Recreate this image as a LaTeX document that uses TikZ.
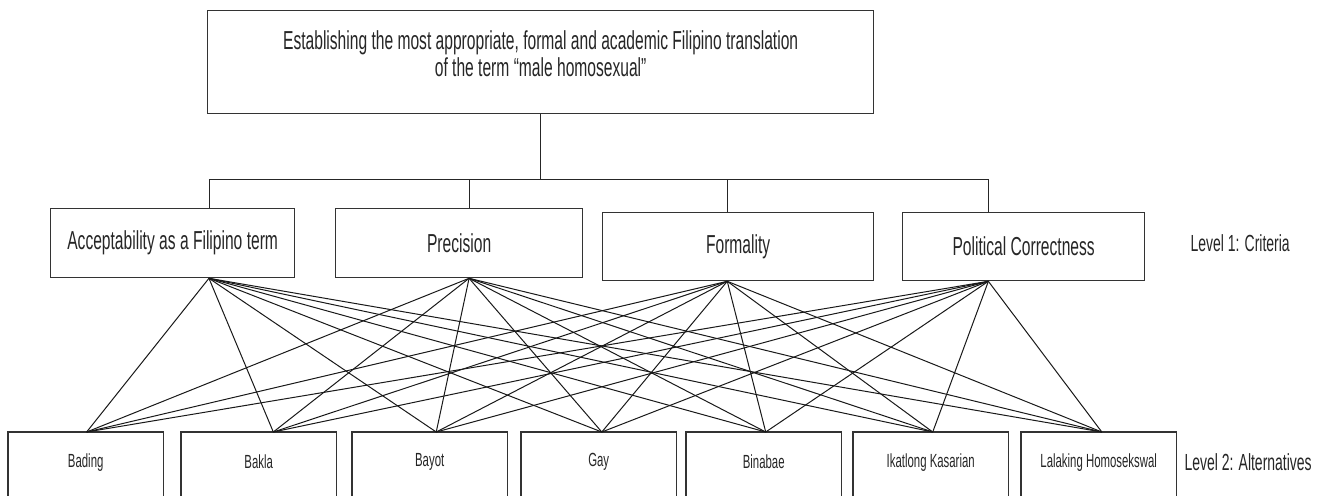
\documentclass[tikz,border=0pt]{standalone}
\usepackage{fontspec}
\setmainfont{Liberation Sans}[FakeStretch=0.6]
\usetikzlibrary{calc}
\begin{document}
\begin{tikzpicture}[x=1pt,y=-1pt,
  box/.style={draw=black!80, line width=1.3pt, inner sep=0pt, text=black!85, anchor=north west},
  bigtext/.style={font=\fontsize{26}{27}\selectfont, align=center},
  alt/.style={inner sep=0pt, text=black!85, anchor=north west, minimum width=155pt, minimum height=60pt, font=\fontsize{19}{21}\selectfont},
  altline/.style={draw=black!80, line width=1.3pt},
  levellabel/.style={anchor=west, text=black!85, font=\fontsize{23.3}{26}\selectfont},
  link/.style={draw=black!85, line width=0.9pt},
  fan/.style={draw=black!90, line width=1pt}]
\useasboundingbox (0,0) rectangle (1319,495);
\clip (0,0) rectangle (1319,495);
\fill[white] (0,0) rectangle (1319,495);

% goal
\node[box, font=\fontsize{26}{27}\selectfont, minimum width=666pt, minimum height=103pt] (goal) at (207,10)
  {\raisebox{5pt}[\height][\depth]{\begin{tabular}{@{}c@{}}Establishing the most appropriate, formal and academic Filipino translation\\of the term ``male homosexual''\end{tabular}}};

% criteria
\node[box, bigtext, minimum width=244pt, minimum height=69pt] (c1) at (50,208) {Acceptability as a Filipino term};
\node[box, bigtext, minimum width=247pt, minimum height=69pt] (c2) at (335,208) {Precision};
\node[box, bigtext, minimum width=271pt, minimum height=68pt] (c3) at (602,212) {Formality};
\node[box, bigtext, minimum width=242pt, minimum height=68pt] (c4) at (902,212) {Political Correctness};

\node[levellabel] (l1) at (1187,243) {Level 1: Criteria};

% alternatives
\node[alt] (a1) at (8,432) {Bading};
\node[alt] (a2) at (181,432) {Bakla};
\node[alt] (a3) at (352,432) {Bayot};
\node[alt] (a4) at (521,432) {Gay};
\node[alt] (a5) at (686,432) {Binabae};
\node[alt] (a6) at (853,432) {Ikatlong Kasarian};
\node[alt] (a7) at (1021,432) {Lalaking Homosekswal};
\foreach \a in {a1,a2,a3,a4,a5,a6,a7}
  \draw[altline] (\a.south west) ++(0,30) |- (\a.north east) -- ++(0,80);

\node[levellabel] (l2) at (1181,462) {Level 2: Alternatives};

% anchor points
\foreach \c/\f in {c1/0.648,c2/0.54,c3/0.46,c4/0.355} {
  \coordinate (\c t) at ($(\c.north west)!\f!(\c.north east)$);
  \coordinate (\c b) at ($(\c.south west)!\f!(\c.south east)$);
}
\foreach \a/\f in {a1/0.506,a2/0.594,a3/0.542,a4/0.52,a5/0.513,a6/0.513,a7/0.52}
  \coordinate (\a t) at ($(\a.north west)!\f!(\a.north east)$);

% tree connectors
\coordinate (j) at ($(goal.south)+(0,65)$);
\draw[link] (goal.south) -- (j);
\draw[link] (c1t |- j) -- (c4t |- j);
\foreach \c in {c1,c2,c3,c4}
  \draw[link] (\c t |- j) -- (\c t);

% fan connectors
\foreach \c in {c1,c2,c3,c4}
  \foreach \a in {a1,a2,a3,a4,a5,a6,a7}
    \draw[fan] (\c b) -- (\a t);
\end{tikzpicture}
\end{document}
